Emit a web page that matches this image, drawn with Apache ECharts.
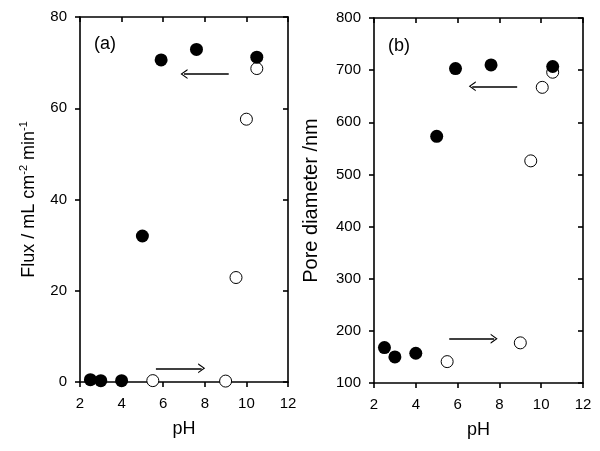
<!DOCTYPE html>
<html>
<head>
<meta charset="utf-8">
<script src="https://cdn.jsdelivr.net/npm/echarts@6/dist/echarts.min.js"></script>
<style>
html,body{margin:0;padding:0;background:#fff;}
#chart{width:600px;height:451px;}
</style>
</head>
<body>
<div id="chart"></div>
<script>
// ---- Data (panel a: flux) ----
var phFluxFilled = [2.5, 3.0, 4.0, 5.0, 5.9, 7.6, 10.5];
var fluxFilled   = [0.5, 0.3, 0.3, 32.0, 70.6, 72.9, 71.2];
var phFluxOpen   = [5.5, 9.0, 9.5, 10.0, 10.5];
var fluxOpen     = [0.3, 0.2, 22.9, 57.6, 68.7];
// ---- Data (panel b: pore diameter) ----
var phPoreFilled = [2.5, 3.0, 4.0, 5.0, 5.9, 7.6, 10.55];
var poreFilled   = [168, 150, 157, 573, 703, 710, 707];
var phPoreOpen   = [5.5, 9.0, 9.5, 10.05, 10.55];
var poreOpen     = [141, 177, 526, 667, 696];
// ---- Arrow annotations [x1, y1, x2, y2] ----
var arrowsFlux = [[9.15, 67.5, 7.0, 67.5], [5.65, 3.0, 7.85, 3.0]];
var arrowsPore = [[8.85, 669, 6.7, 669], [5.6, 185, 7.75, 185]];
// ---- Axis settings ----
var phMin = 2, phMax = 12, phStep = 2;
var fluxMin = 0, fluxMax = 80, fluxStep = 20;
var poreMin = 100, poreMax = 800, poreStep = 100;

var FONT = 'Arial, "Liberation Sans", sans-serif';
var chevron = 'path://M0,10 L5,0 L10,10 L8.6,10 L5,2.6 L1.4,10 Z';

function zip(xs, ys){ return xs.map(function(x,i){ return [x, ys[i]]; }); }
function arrowLines(arr){
  return arr.map(function(a){ return [{coord:[a[0],a[1]]},{coord:[a[2],a[3]]}]; });
}

function mainX(gi){
  return {
    type:'value', gridIndex:gi, min:phMin, max:phMax, interval:phStep, position:'bottom',
    name:'pH', nameLocation:'middle', nameGap:38,
    nameTextStyle:{fontFamily:FONT, fontSize:18, color:'#000'},
    axisLine:{onZero:false, lineStyle:{color:'#000', width:1.6}},
    axisTick:{inside:false, length:5, lineStyle:{color:'#000', width:1.6}},
    axisLabel:{fontFamily:FONT, fontSize:15, color:'#000', margin:14},
    splitLine:{show:false}
  };
}
function topX(gi){
  return {
    type:'value', gridIndex:gi, min:phMin, max:phMax, interval:phStep, position:'top',
    axisLine:{onZero:false, lineStyle:{color:'#000', width:1.6}},
    axisTick:{inside:true, length:5, lineStyle:{color:'#000', width:1.6}},
    axisLabel:{show:false}, splitLine:{show:false}
  };
}
function mainY(gi, mn, mx, st, name, gap, size, rich){
  return {
    type:'value', gridIndex:gi, min:mn, max:mx, interval:st, position:'left',
    name:name, nameLocation:'middle', nameGap:gap,
    nameTextStyle:{fontFamily:FONT, fontSize:size, color:'#000', rich:rich},
    axisLine:{onZero:false, lineStyle:{color:'#000', width:1.6}},
    axisTick:{inside:false, length:5, lineStyle:{color:'#000', width:1.6}},
    axisLabel:{fontFamily:FONT, fontSize:15, color:'#000', margin:13},
    splitLine:{show:false}
  };
}
function rightY(gi, mn, mx, st){
  return {
    type:'value', gridIndex:gi, min:mn, max:mx, interval:st, position:'right',
    axisLine:{onZero:false, lineStyle:{color:'#000', width:1.6}},
    axisTick:{inside:true, length:5, lineStyle:{color:'#000', width:1.6}},
    axisLabel:{show:false}, splitLine:{show:false}
  };
}
function arrowMark(arr){
  return {
    silent:true, animation:false,
    symbol:['none', chevron], symbolSize:[10,7],
    label:{show:false},
    lineStyle:{color:'#000', width:1.6, type:'solid', opacity:1},
    emphasis:{disabled:true},
    data:arrowLines(arr)
  };
}
function openSeries(xi, yi, data, mark){
  return {type:'scatter', xAxisIndex:xi, yAxisIndex:yi, data:data, symbol:'circle', symbolSize:12, clip:false,
    itemStyle:{color:'#fff', borderColor:'#000', borderWidth:1, opacity:1}, z:3,
    emphasis:{disabled:true},
    markLine: mark};
}
function filledSeries(xi, yi, data){
  return {type:'scatter', xAxisIndex:xi, yAxisIndex:yi, data:data, symbol:'circle', symbolSize:13, clip:false,
    itemStyle:{color:'#000', borderColor:'#000', borderWidth:0, opacity:1}, z:4,
    emphasis:{disabled:true}};
}

var supRich = {
  n:{fontFamily:FONT, fontSize:18, color:'#000', verticalAlign:'bottom'},
  sup:{fontFamily:FONT, fontSize:11, color:'#000', verticalAlign:'bottom', padding:[0,0,9,0]}
};

var option = {
  animation:false,
  backgroundColor:'#fff',
  grid:[
    {left:80, right:312, top:17, bottom:69},
    {left:374, right:17, top:18, bottom:68}
  ],
  xAxis:[ mainX(0), topX(0), mainX(1), topX(1) ],
  yAxis:[
    mainY(0, fluxMin, fluxMax, fluxStep, '{n|Flux / mL cm}{sup|-2}{n| min}{sup|-1}', 42, 18, supRich),
    rightY(0, fluxMin, fluxMax, fluxStep),
    mainY(1, poreMin, poreMax, poreStep, 'Pore diameter /nm', 53, 20, null),
    rightY(1, poreMin, poreMax, poreStep)
  ],
  graphic:[
    {type:'text', left:94, top:35, style:{text:'(a)', font:'18px ' + FONT, fill:'#000'}},
    {type:'text', left:388, top:37, style:{text:'(b)', font:'18px ' + FONT, fill:'#000'}}
  ],
  series:[
    openSeries(0, 0, zip(phFluxOpen, fluxOpen), arrowMark(arrowsFlux)),
    filledSeries(0, 0, zip(phFluxFilled, fluxFilled)),
    openSeries(2, 2, zip(phPoreOpen, poreOpen), arrowMark(arrowsPore)),
    filledSeries(2, 2, zip(phPoreFilled, poreFilled))
  ]
};
var chart = echarts.init(document.getElementById('chart'), null, {renderer:'canvas'});
chart.setOption(option);
</script>
</body>
</html>
